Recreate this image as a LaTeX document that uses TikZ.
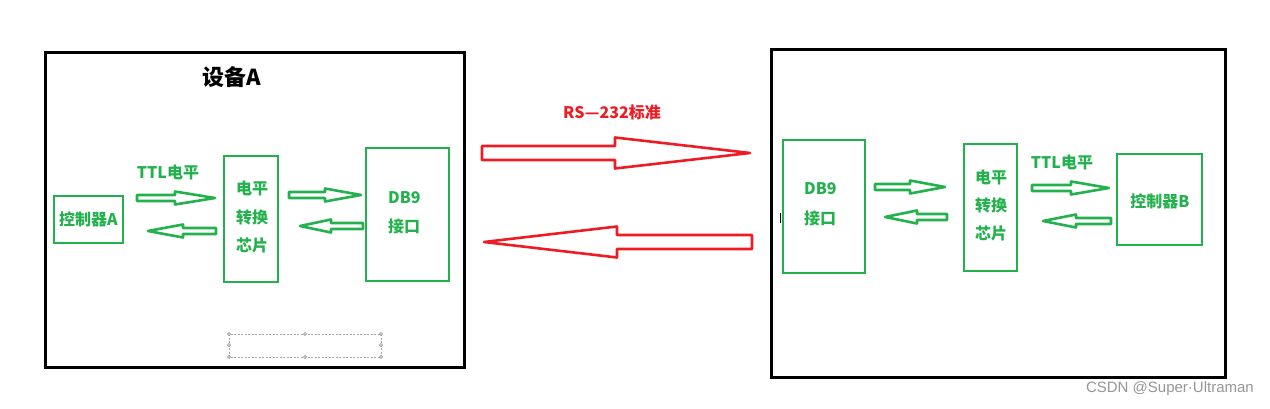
\documentclass[tikz,border=0pt]{standalone}
\usepackage{fontspec}
\newfontfamily\cjk{Noto Sans CJK SC}
\newfontfamily\wm{Liberation Sans}
\definecolor{pgreen}{RGB}{34,177,76}
\definecolor{pred}{RGB}{237,28,36}
\definecolor{wmgray}{RGB}{150,150,150}
\newcommand\barrow[7]{%
  \draw[#1] (#2,#4-#6) -- (#5,#4-#6) -- (#5,#4-#7) -- (#3,#4) -- (#5,#4+#7) -- (#5,#4+#6) -- (#2,#4+#6) -- cycle;}
\begin{document}
\begin{tikzpicture}[x=1pt,y=-1pt,
  outerbox/.style={draw=black,line width=3pt,inner sep=0pt},
  gbox/.style={draw=pgreen,line width=2.9pt,inner sep=0pt},
  gtext/.style={text=pgreen,font=\cjk\bfseries\fontsize{16}{18}\selectfont,inner sep=0pt},
  rtext/.style={text=pred,font=\cjk\bfseries\fontsize{16}{18}\selectfont,inner sep=0pt},
  garrow/.style={draw=pgreen,line width=2.6pt,line join=round},
  rarrow/.style={draw=pred,line width=2.6pt,line join=round},
  handle/.style={draw=gray,fill=white,circle,inner sep=0pt,minimum size=3pt,line width=0.5pt}]
\useasboundingbox (0,0) rectangle (1270,409);
% device A
\draw[outerbox] (45,53) rectangle (464,367);
\node[font=\cjk\bfseries\fontsize{22}{24}\selectfont,inner sep=0pt] (titleA) at (232,77) {设备A};
\node[gbox,minimum width=69pt,minimum height=47pt] (ctrlA) at (88.5,219.5) {};
\node[gtext] (ctrlAt) at (ctrlA.center) {控制器A};
\node[gbox,minimum width=54pt,minimum height=126pt] (chipA) at (251,219) {};
\node[gtext] (chipA1) at (252,188) {电平};
\node[gtext] (chipA2) at (252,217) {转换};
\node[gtext] (chipA3) at (252,245) {芯片};
\node[gbox,minimum width=83pt,minimum height=133pt] (dbA) at (407.5,214.5) {};
\node[gtext,anchor=west] (dbA1) at (388,198) {DB9};
\node[gtext,anchor=west] (dbA2) at (388,226) {接口};
\node[gtext] (ttlA) at (168,172) {TTL电平};
\barrow{garrow}{137}{215}{198}{175}{3}{6.5}
\barrow{garrow}{216}{148}{231}{183}{3}{6.5}
\barrow{garrow}{289}{361}{195}{325}{3}{6.5}
\barrow{garrow}{363}{300}{226}{331}{3}{6.5}
% selection frame
\draw[gray!70,dashed,line width=0.6pt,dash pattern=on 2pt off 1.5pt] (229,334) rectangle (381,357);
\foreach \p in {(229,334),(305,334),(381,334),(229,345),(381,345),(229,357),(305,357),(381,357)}
  \node[handle] at \p {};
% RS-232
\node[rtext] (rs) at (612,112) {RS—232标准};
\barrow{rarrow}{482}{750}{153}{615}{7}{15.5}
\barrow{rarrow}{752}{484}{242}{617}{7}{15.5}
% device B
\draw[outerbox] (771,50) rectangle (1225,377);
\draw[black,line width=1pt] (780.5,213) -- (780.5,223);
\node[gbox,minimum width=82pt,minimum height=133pt] (dbB) at (824,206.5) {};
\node[gtext,anchor=west] (dbB1) at (804,189) {DB9};
\node[gtext,anchor=west] (dbB2) at (804,218) {接口};
\node[gbox,minimum width=53pt,minimum height=127pt] (chipB) at (990.5,207.5) {};
\node[gtext] (chipB1) at (991,177) {电平};
\node[gtext] (chipB2) at (991,205) {转换};
\node[gtext] (chipB3) at (991,233) {芯片};
\node[gbox,minimum width=85pt,minimum height=91pt] (ctrlB) at (1159.5,199.5) {};
\node[gtext] (ctrlBt) at (1160,201) {控制器B};
\node[gtext] (ttlB) at (1062,162) {TTL电平};
\barrow{garrow}{875}{945}{187}{910}{3}{6.5}
\barrow{garrow}{947}{885}{217}{917}{3}{6.5}
\barrow{garrow}{1032}{1109}{188}{1071}{3}{6.5}
\barrow{garrow}{1111}{1043}{221}{1076}{3}{6.5}
% watermark
\node[text=wmgray,font=\wm\fontsize{15}{17}\selectfont,anchor=east,inner sep=0pt] (wmk) at (1254,389) {CSDN @Super·Ultraman};
\end{tikzpicture}
\end{document}
